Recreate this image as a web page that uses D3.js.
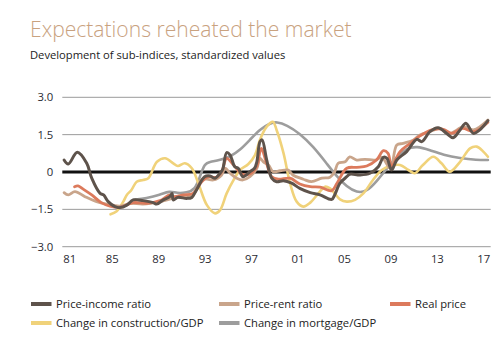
<!DOCTYPE html>
<html><head><meta charset="utf-8">
<script src="https://cdn.jsdelivr.net/npm/d3@7"></script>
<style>
html,body{margin:0;padding:0;background:#fff;}
svg{display:block;font-family:"Open Sans","Noto Sans",sans-serif;}
</style></head>
<body><svg id="c" width="504" height="351"></svg>
<script>
const yTicks = [3.0, 1.5, 0, -1.5, -3.0];
const yTickLabels = ["3.0", "1.5", "0", "\u22121.5", "\u22123.0"];
const xTicks = [1981, 1985, 1989, 1993, 1997, 2001, 2005, 2009, 2013, 2017];
const xTickLabels = ["81", "85", "89", "93", "97", "01", "05", "09", "13", "17"];

const incomeYears = [1980.9,1981.26,1982.04,1982.85,1983.28,1984.0,1984.3,1984.7,1985.28,1985.7,1986.3,1986.86,1987.7,1988.58,1988.87,1989.44,1990.0,1990.2,1990.3,1990.7,1991.46,1991.9,1992.3,1993.0,1993.47,1993.9,1994.33,1994.56,1994.9,1995.2,1995.6,1995.9,1996.3,1996.9,1997.3,1997.5,1997.77,1997.95,1998.35,1998.78,1999.2,1999.78,2000.5,2001.2,2002.1,2002.94,2003.95,2004.2,2004.66,2005.24,2005.5,2006.4,2007.25,2007.96,2008.4,2008.7,2009.1,2009.55,2010.4,2011.27,2011.7,2012.4,2013.1,2013.85,2014.4,2015.0,2015.5,2016.15,2016.7,2017.4];
const incomeValues = [0.48,0.32,0.79,0.35,-0.25,-0.86,-0.92,-1.19,-1.39,-1.43,-1.33,-1.12,-1.15,-1.23,-1.29,-1.12,-0.99,-0.86,-1.12,-1.02,-1.06,-1.02,-0.72,-0.19,-0.16,-0.25,-0.05,0.11,0.78,0.68,0.21,0.15,-0.19,0.01,0.15,0.41,1.22,1.29,0.48,-0.25,-0.39,-0.35,-0.45,-0.66,-0.83,-0.92,-1.1,-0.92,-0.45,-0.19,-0.09,-0.12,-0.05,0.21,0.59,0.55,0.08,0.48,0.82,1.31,1.22,1.62,1.78,1.55,1.38,1.69,1.96,1.55,1.69,2.06];

const rentYears = [1980.9,1981.26,1981.84,1982.7,1983.7,1984.57,1985.7,1986.6,1987.7,1989.2,1990.3,1991.46,1992.0,1992.75,1993.2,1993.75,1994.47,1994.76,1995.2,1995.77,1996.3,1996.9,1997.5,1997.77,1998.06,1998.5,1998.9,1999.5,2000.2,2000.6,2001.5,2002.2,2003.1,2003.8,2004.2,2004.5,2005.1,2005.5,2006.1,2006.8,2007.7,2008.26,2009.0,2009.55,2010.1,2011.0,2011.55,2012.4,2013.3,2014.1,2015.3,2016.15,2017.4];
const rentValues = [-0.83,-0.92,-0.79,-0.99,-1.19,-1.29,-1.37,-1.26,-1.29,-1.19,-1.06,-0.99,-0.92,-0.32,-0.29,-0.32,-0.12,0.15,-0.05,-0.25,-0.32,-0.19,0.15,0.55,0.41,0.28,0.01,0.05,0.08,-0.12,-0.29,-0.39,-0.25,-0.21,0.01,0.35,0.41,0.61,0.48,0.51,0.48,0.59,0.15,1.08,1.15,1.29,1.49,1.62,1.75,1.55,1.82,1.69,2.09];

const realYears = [1981.8,1982.1,1982.55,1983.28,1984.1,1984.85,1985.7,1986.86,1988.0,1989.16,1990.0,1990.3,1991.2,1992.0,1992.75,1993.3,1994.0,1994.47,1994.9,1995.5,1996.2,1996.9,1997.5,1997.77,1997.9,1998.3,1998.78,1999.35,2000.36,2001.2,2002.1,2002.94,2003.95,2004.4,2005.24,2006.1,2006.96,2007.8,2008.4,2008.8,2009.1,2009.83,2010.7,2011.55,2012.56,2013.56,2014.3,2015.2,2016.2,2017.4];
const realValues = [-0.59,-0.56,-0.69,-0.92,-1.23,-1.37,-1.42,-1.23,-1.26,-1.15,-0.92,-0.99,-0.92,-0.86,-0.39,-0.19,-0.21,0.01,0.55,0.28,-0.08,-0.08,0.24,0.82,0.95,0.41,-0.19,-0.29,-0.25,-0.48,-0.59,-0.61,-0.75,-0.45,0.15,0.19,0.24,0.48,0.86,0.75,0.24,0.82,1.15,1.45,1.69,1.71,1.55,1.75,1.62,2.0];

const constrYears = [1984.9,1985.4,1986.0,1986.3,1986.7,1987.15,1987.7,1988.15,1988.9,1989.6,1990.3,1990.7,1991.3,1991.9,1992.46,1993.2,1993.9,1994.33,1994.9,1995.5,1996.05,1996.77,1997.34,1997.77,1998.35,1998.87,1999.2,1999.8,2000.36,2000.93,2001.5,2002.1,2002.8,2003.37,2003.8,2004.2,2004.66,2005.24,2005.96,2006.67,2007.5,2008.26,2009.0,2009.83,2010.55,2011.1,2011.8,2012.7,2013.4,2014.1,2015.0,2015.86,2016.44,2017.0,2017.4];
const constrValues = [-1.7,-1.59,-1.19,-0.92,-0.72,-0.39,-0.32,-0.25,0.41,0.55,0.35,0.24,0.35,0.15,-0.45,-1.33,-1.66,-1.53,-0.86,-0.32,0.08,0.32,0.68,1.3,1.82,2.02,1.69,0.75,-0.45,-1.19,-1.39,-1.23,-0.86,-0.59,-0.66,-0.86,-1.1,-1.19,-1.12,-0.86,-0.32,0.08,0.24,0.28,0.08,-0.05,0.28,0.61,0.35,0.01,0.41,0.95,1.02,0.82,0.61];

const mortYears = [1986.86,1988.0,1989.16,1990.0,1990.6,1991.46,1992.17,1992.6,1993.0,1993.47,1994.33,1995.2,1996.05,1996.9,1997.77,1998.63,1999.2,2000.07,2001.2,2002.36,2003.5,2004.4,2005.24,2006.1,2006.96,2007.8,2008.7,2009.55,2010.4,2011.27,2012.4,2013.56,2015.0,2016.44,2017.4];
const mortValues = [-1.12,-1.06,-0.92,-0.75,-0.86,-0.83,-0.72,-0.19,0.35,0.41,0.48,0.61,0.88,1.29,1.72,1.96,2.02,1.89,1.55,1.02,0.35,-0.19,-0.59,-0.83,-0.79,-0.39,0.15,0.61,0.95,1.04,0.88,0.68,0.55,0.48,0.48];

const seriesNames = ["Price-income ratio","Price-rent ratio","Real price","Change in construction/GDP","Change in mortgage/GDP"];
const seriesColors = ["#5e534b","#c9a58b","#dc7a5c","#f0d27a","#9d9d9d"];

const svg = d3.select("#c");
const x = d3.scaleLinear().domain([1985, 2017]).range([111.7, 483.3]);
const y = d3.scaleLinear().domain([-3, 3]).range([246.7, 97.3]);
const gridL = 62.3, gridR = 490.7;

svg.append("text").attr("x", 30).attr("y", 37).attr("font-size", 21.1).attr("font-weight", 300)
  .attr("fill", "#c9a27f").text("Expectations reheated the market");
svg.append("text").attr("x", 30).attr("y", 58.5).attr("font-size", 11.2)
  .attr("fill", "#222").text("Development of sub-indices, standardized values");

const yAxis = d3.axisLeft(y).tickValues(yTicks).tickSize(0).tickPadding(9)
  .tickFormat((d,i) => yTickLabels[i]);
const ga = svg.append("g").attr("transform", `translate(${gridL},0)`).call(yAxis);
ga.select(".domain").remove();
ga.selectAll("text").attr("font-size", 11.3).attr("fill", "#2b2b33").attr("font-family", "'Open Sans','Noto Sans',sans-serif");
svg.append("g").selectAll("line").data(yTicks.filter(d => d !== 0)).join("line")
  .attr("x1", gridL).attr("x2", gridR).attr("y1", d => y(d)).attr("y2", d => y(d))
  .attr("stroke", "#9a9a9a").attr("stroke-width", 1);

const xAxis = d3.axisBottom(x).tickValues(xTicks).tickSize(0).tickPadding(8)
  .tickFormat((d,i) => xTickLabels[i]);
const gx = svg.append("g").attr("transform", `translate(0,${y(-3)})`).call(xAxis);
gx.select(".domain").remove();
gx.selectAll("text").attr("font-size", 11.3).attr("fill", "#2b2b33").attr("font-family", "'Open Sans','Noto Sans',sans-serif");
gx.selectAll(".tick").filter((d,i) => i === 0).select("text").attr("dx", 4);

const line = d3.line().x(d => x(d[0])).y(d => y(d[1])).curve(d3.curveCatmullRom.alpha(0.5));
const smooth = d3.line().x(d => x(d[0])).y(d => y(d[1])).curve(d3.curveBasis);
function pairs(a, b){ return a.map((v,i) => [v, b[i]]); }

const draws = [
  {yrs: mortYears, vals: mortValues, c: 4, w: 2.6, gen: smooth},
  {yrs: constrYears, vals: constrValues, c: 3, w: 2.6, gen: line},
  {yrs: rentYears, vals: rentValues, c: 1, w: 2.8, gen: line},
  {yrs: realYears, vals: realValues, c: 2, w: 2.8, gen: line},
  {yrs: incomeYears, vals: incomeValues, c: 0, w: 3, gen: line}
];
svg.append("line").attr("x1", gridL).attr("x2", gridR).attr("y1", y(0)).attr("y2", y(0))
  .attr("stroke", "#111").attr("stroke-width", 3);
draws.forEach(s => {
  svg.append("path").attr("d", s.gen(pairs(s.yrs, s.vals))).attr("fill", "none")
    .attr("stroke", seriesColors[s.c]).attr("stroke-width", s.w).attr("stroke-linejoin", "round").attr("stroke-linecap", "round");
});

const legPos = [[31,304],[219,304],[390,304],[31,323],[219,323]];
seriesNames.forEach((n,i) => {
  const [lx, ly] = legPos[i];
  svg.append("rect").attr("x", lx).attr("y", ly - 2).attr("width", 20.5).attr("height", 4).attr("fill", seriesColors[i]);
  svg.append("text").attr("x", lx + 25).attr("y", ly + 4).attr("font-size", 11.2).attr("fill", "#222").text(n);
});
</script></body></html>
